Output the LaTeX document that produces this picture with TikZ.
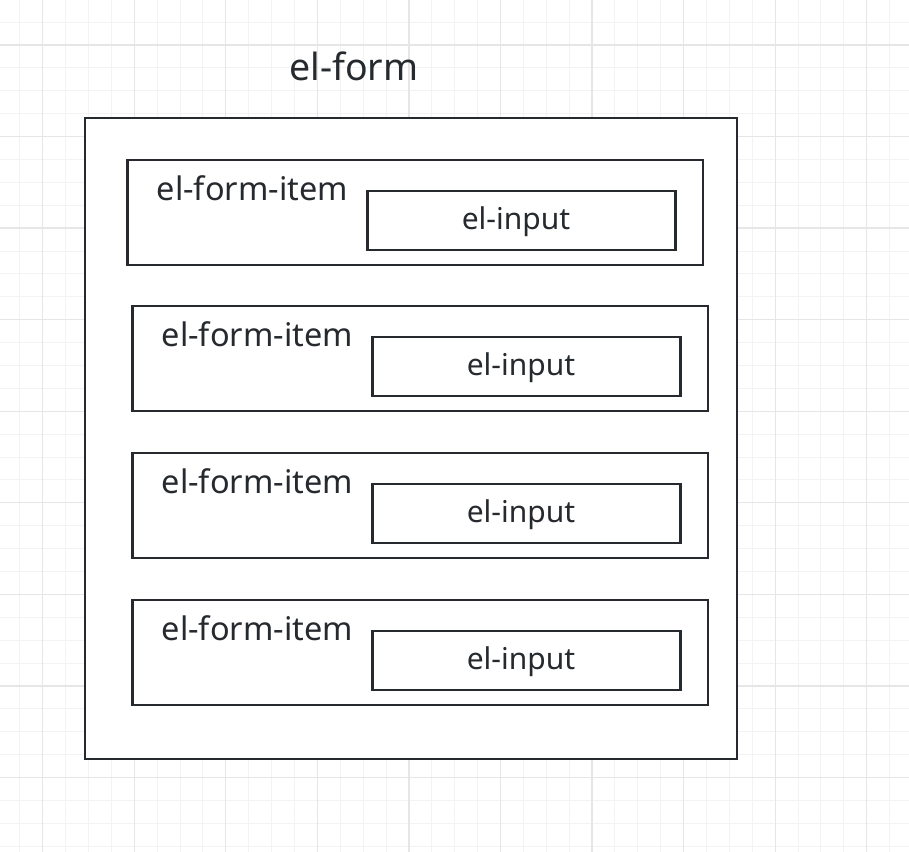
\documentclass[tikz,border=0pt]{standalone}
\usepackage{fontspec}
\setmainfont{Noto Sans}
\usepackage{tikz}
\usetikzlibrary{positioning}

\definecolor{boxline}{RGB}{38,42,46}
\definecolor{gridmajor}{RGB}{230,230,230}
\definecolor{gridminor}{RGB}{243,243,243}

\tikzset{
  minorline/.style={color=gridminor,line width=1pt},
  majorline/.style={color=gridmajor,line width=1.3pt},
  formbox/.style={draw=boxline,fill=white,line width=2.8pt,minimum width=652pt,minimum height=641pt},
  itembox/.style={draw=boxline,line width=2.8pt,minimum width=575.5pt,minimum height=105pt},
  inputbox/.style={draw=boxline,line width=2.8pt,minimum width=308pt,minimum height=59pt},
  inputtext/.style={text=boxline,font=\fontsize{30}{34}\selectfont,inner sep=0pt},
  itemlabel/.style={text=boxline,font=\fontsize{32.5}{36}\selectfont,anchor=base west,inner sep=0pt},
}

\begin{document}
\begin{tikzpicture}[line cap=rect,line join=miter,x=1pt,y=-1pt]
\useasboundingbox (0,0) rectangle (909,851);
\fill[white] (0,0) rectangle (909,851);
% grid
\foreach \i in {0,...,39}
\draw[minorline] ({19.8+22.89*\i},0) -- ({19.8+22.89*\i},851);
\foreach \i in {0,...,36}
\draw[minorline] (0,{22.1+22.89*\i}) -- (909,{22.1+22.89*\i});
\foreach \i in {0,...,9}
\draw[majorline] ({42.7+91.56*\i},0) -- ({42.7+91.56*\i},851);
\foreach \i in {0,...,8}
\draw[majorline] (0,{45+91.56*\i}) -- (909,{45+91.56*\i});
% form
\node[formbox] (form) at (411,438.5) {};
\node[text=boxline,font=\fontsize{37.5}{42}\selectfont,anchor=base,inner sep=0pt] (title) at (354,80) {el-form};
% items
\node[itembox] (item1) at (415.25,212.5) {};
\node[itembox] (item2) at (420.25,358.5) {};
\node[itembox] (item3) at (420.25,505.5) {};
\node[itembox] (item4) at (420.25,652.5) {};
\foreach \k in {1,2,3,4}{
  \node[itemlabel] (label\k) at ([xshift=30.5pt,yshift=-42pt]item\k.north west) {el-form-item};
  \node[inputbox,anchor=north east] (input\k) at ([xshift=-27.5pt,yshift=-31pt]item\k.north east) {};
  \node[inputtext] (intext\k) at ([xshift=-5.5pt,yshift=-1pt]input\k.center) {el-input};
}
\end{tikzpicture}
\end{document}
